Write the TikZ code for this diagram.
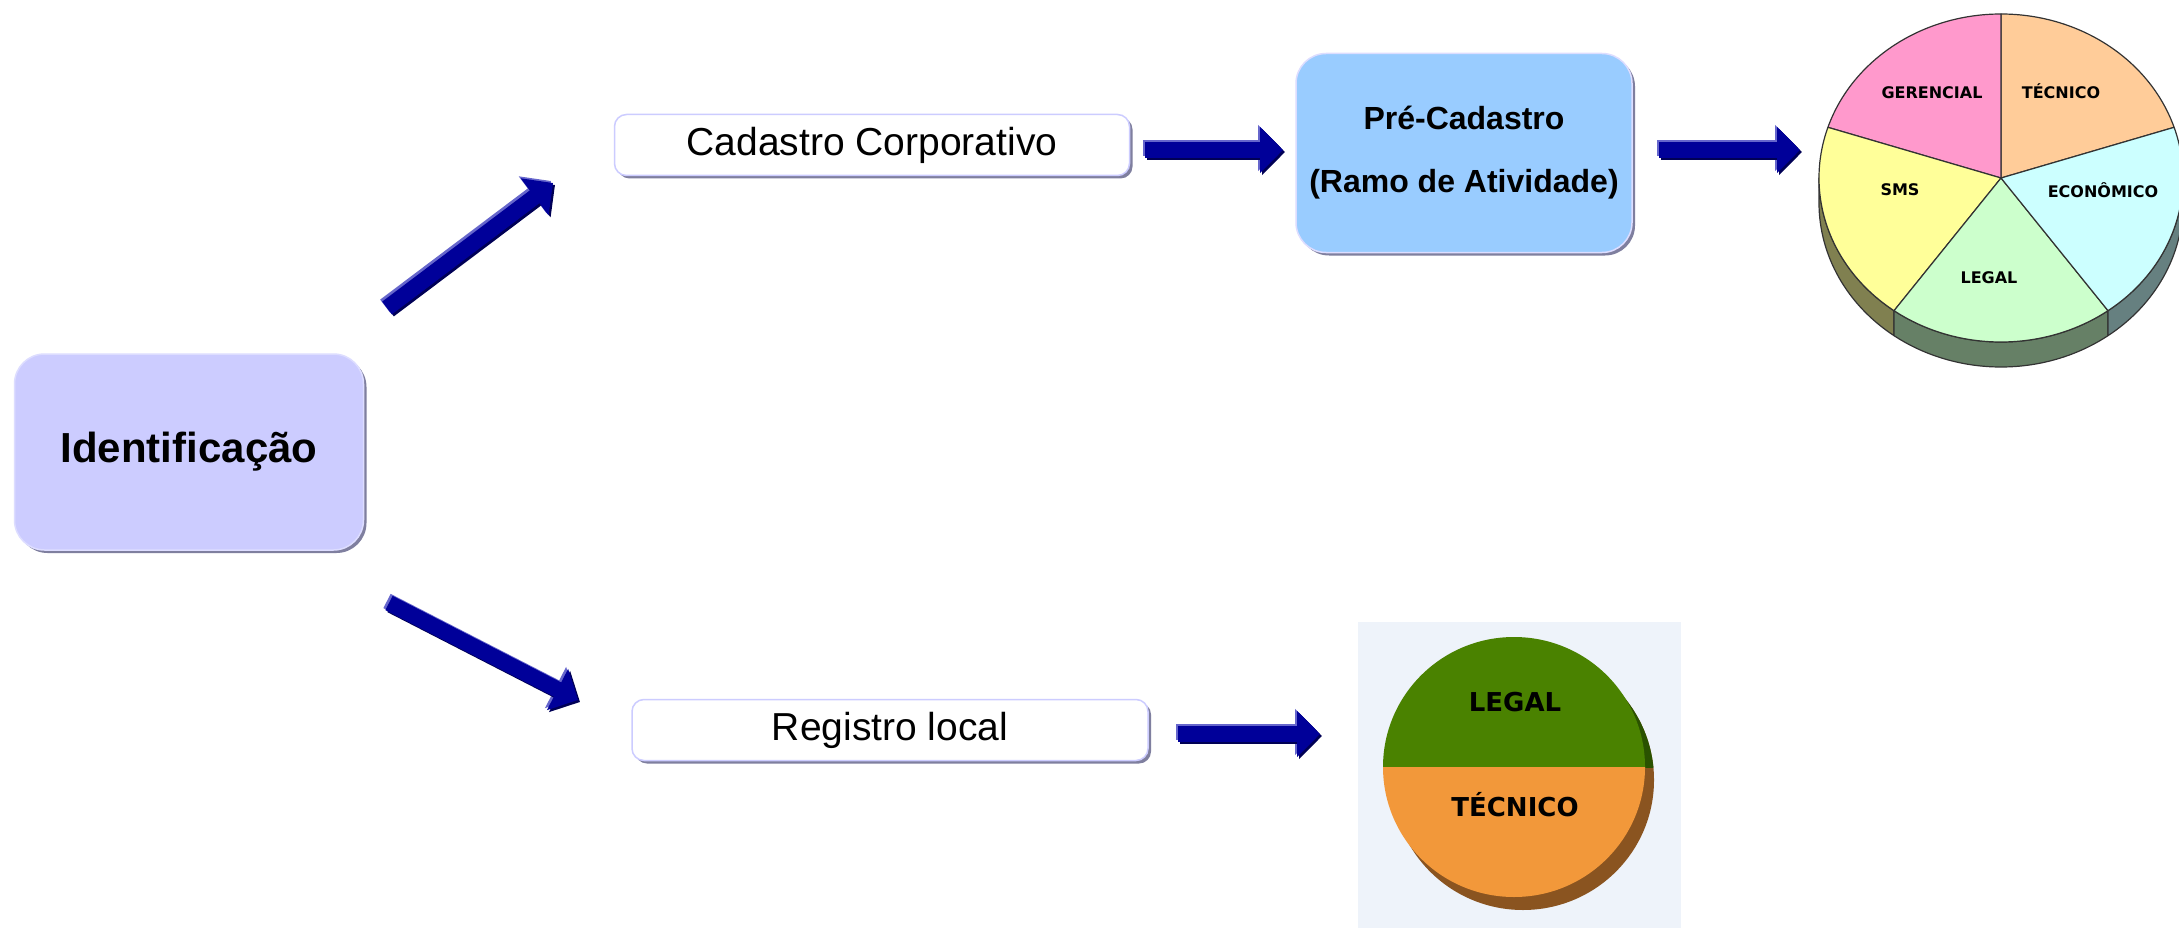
\documentclass[tikz,border=0pt]{standalone}
\usepackage{fontspec}
\setmainfont{Liberation Sans}
\newfontfamily\verd{DejaVu Sans}
\usetikzlibrary{arrows.meta,calc,shadows}

\definecolor{arrowblue}{HTML}{000099}
\definecolor{arrowlight}{HTML}{6666CC}
\definecolor{arrowdark}{HTML}{000055}
\definecolor{lav}{HTML}{CCCCFF}
\definecolor{lavedge}{HTML}{DDDDFF}
\definecolor{skyb}{HTML}{99CCFF}
\definecolor{shade}{HTML}{7F7F9F}
\definecolor{pger}{HTML}{FF99CC}
\definecolor{ptec}{HTML}{FFCC99}
\definecolor{peco}{HTML}{CCFFFF}
\definecolor{pleg}{HTML}{CCFFCC}
\definecolor{psms}{HTML}{FFFF99}
\definecolor{ssms}{HTML}{808050}
\definecolor{sleg}{HTML}{668066}
\definecolor{seco}{HTML}{668080}
\definecolor{pieline}{HTML}{333333}
\definecolor{bgpie}{HTML}{EEF3FA}
\definecolor{dgreen}{HTML}{4A8200}
\definecolor{dorange}{HTML}{F2983A}
\definecolor{sgreen}{HTML}{2A5200}
\definecolor{sbrown}{HTML}{8A5420}

\tikzset{
  fatarrow/.style={line width=16pt,-{Triangle[width=45pt,length=23pt]}},
  basebox/.style={inner sep=0pt, line width=1.5pt,
    drop shadow={shadow xshift=3pt, shadow yshift=-3pt, fill=shade, opacity=1}},
  lavbox/.style={basebox, draw=lavedge, fill=lav, rounded corners=30pt,
    font=\fontsize{42}{50}\selectfont\bfseries},
  bluebox/.style={basebox, draw=lavedge, fill=skyb, rounded corners=30pt,
    align=center, font=\fontsize{32}{63}\selectfont\bfseries},
  whitebox/.style={basebox, draw=lav, fill=white, rounded corners=12pt,
    font=\fontsize{39}{47}\selectfont},
  pielabel/.style={font=\verd\bfseries\fontsize{16}{19}\selectfont, inner sep=0pt},
  bigpielabel/.style={font=\verd\bfseries\fontsize{26}{31}\selectfont, inner sep=0pt},
  slice/.style={draw=pieline, line width=1.2pt, line join=round},
}

\newcommand\myblockarrow[2]{%
  \draw[fatarrow,arrowlight] ($(#1)+(-2,-2)$) -- ($(#2)+(-2,-2)$);
  \draw[fatarrow,arrowdark] ($(#1)+(2,2)$) -- ($(#2)+(2,2)$);
  \draw[fatarrow,arrowblue] (#1) -- (#2);}

\begin{document}
\begin{tikzpicture}[x=1pt,y=-1pt]
\useasboundingbox (0,0) rectangle (2179,928);
\fill[white] (0,0) rectangle (2179,928);

% boxes
\node[lavbox, minimum width=349pt, minimum height=196pt] (ident) at (189,452) {Identificação};
\node[whitebox, minimum width=515pt, minimum height=61pt] (cad) at (872,145) {Cadastro Corporativo};
\node[bluebox, minimum width=336pt, minimum height=199pt] (pre) at (1464,153) {Pré-Cadastro\\(Ramo de Atividade)};
\node[whitebox, minimum width=516pt, minimum height=61pt] (reg) at (890,730) {Registro local};

% pie 1
\coordinate (pie1) at (2001,178);
\begin{scope}
\clip (0,0) rectangle (2179,928);
\begin{scope}[shift={(pie1)}, y=1pt]
  % sides
  \filldraw[slice, fill=ssms] (180:182 and 164) arc[start angle=180, end angle=234, x radius=182, y radius=164]
     -- ++(0,-25) arc[start angle=234, end angle=180, x radius=182, y radius=164] -- cycle;
  \filldraw[slice, fill=sleg] (234:182 and 164) arc[start angle=234, end angle=306, x radius=182, y radius=164]
     -- ++(0,-25) arc[start angle=306, end angle=234, x radius=182, y radius=164] -- cycle;
  \filldraw[slice, fill=seco] (306:182 and 164) arc[start angle=306, end angle=360, x radius=182, y radius=164]
     -- ++(0,-25) arc[start angle=360, end angle=306, x radius=182, y radius=164] -- cycle;
  % top
  \filldraw[slice, fill=ptec] (0,0) -- (18:182 and 164) arc[start angle=18, end angle=90, x radius=182, y radius=164] -- cycle;
  \filldraw[slice, fill=pger] (0,0) -- (90:182 and 164) arc[start angle=90, end angle=162, x radius=182, y radius=164] -- cycle;
  \filldraw[slice, fill=psms] (0,0) -- (162:182 and 164) arc[start angle=162, end angle=234, x radius=182, y radius=164] -- cycle;
  \filldraw[slice, fill=pleg] (0,0) -- (234:182 and 164) arc[start angle=234, end angle=306, x radius=182, y radius=164] -- cycle;
  \filldraw[slice, fill=peco] (0,0) -- (306:182 and 164) arc[start angle=306, end angle=378, x radius=182, y radius=164] -- cycle;
\end{scope}
\end{scope}
\node[pielabel] (lger) at (1932,93) {GERENCIAL};
\node[pielabel] (ltec) at (2061,91) {TÉCNICO};
\node[pielabel] (leco) at (2103,190) {ECONÔMICO};
\node[pielabel] (lsms) at (1900,190) {SMS};
\node[pielabel] (lleg) at (1989,278) {LEGAL};

% pie 2
\fill[bgpie] (1358,622) rectangle (1681,928);
\coordinate (pie2) at (1514,767);
\fill[sbrown] (1523,780) circle[x radius=131, y radius=130];
\begin{scope}
  \clip (1358,622) rectangle (1681,767);
  \fill[sgreen] (1523,780) circle[x radius=131, y radius=130];
\end{scope}
\begin{scope}
  \clip (1358,622) rectangle (1681,767);
  \fill[dgreen] (pie2) circle[x radius=131, y radius=130];
\end{scope}
\begin{scope}
  \clip (1358,767) rectangle (1681,928);
  \fill[dorange] (pie2) circle[x radius=131, y radius=130];
\end{scope}
\node[bigpielabel] (l2leg) at (1515,702) {LEGAL};
\node[bigpielabel] (l2tec) at (1515,805) {TÉCNICO};

% arrows
\coordinate (a1s) at (387,308);
\coordinate (a1e) at (553,183);
\coordinate (a2s) at (389,603);
\coordinate (a2e) at (578,700);
\coordinate (a3s) at (1145,150);
\coordinate (a3e) at (1283,150);
\coordinate (a4s) at (1659,150);
\coordinate (a4e) at (1800,150);
\coordinate (a5s) at (1178,734);
\coordinate (a5e) at (1320,734);
\myblockarrow{a1s}{a1e}
\myblockarrow{a2s}{a2e}
\myblockarrow{a3s}{a3e}
\myblockarrow{a4s}{a4e}
\myblockarrow{a5s}{a5e}
\end{tikzpicture}
\end{document}
